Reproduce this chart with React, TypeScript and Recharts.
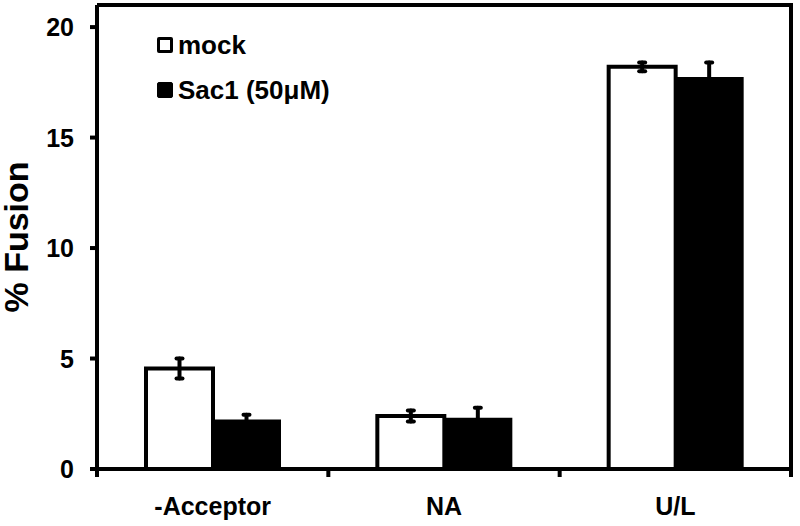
import React from "react";
import {
  BarChart,
  Bar,
  XAxis,
  YAxis,
  ErrorBar,
  ReferenceLine,
} from "recharts";

const categories = ["-Acceptor", "NA", "U/L"];
const mockValues = [4.55, 2.4, 18.2];
const mockErrors = [0.45, 0.25, 0.2];
const sacValues = [2.2, 2.27, 17.7];
const sacErrors = [0.25, 0.5, 0.7];
const yTicks = [0, 5, 10, 15, 20];
const yMax = 21;
const seriesNames = ["mock", "Sac1 (50\u03bcM)"];

const data = categories.map((c, i) => ({
  category: c,
  mock: mockValues[i],
  mockErr: mockErrors[i],
  sac: sacValues[i],
  sacErr: sacErrors[i],
}));

const FONT = "'Liberation Sans', Arial, Helvetica, sans-serif";

// layout constants (shared by chart and frame overlay)
const CHART_W = 800;
const CHART_H = 526;
const MARGIN = { top: 5, right: 9, left: 0, bottom: 0 };
const Y_AXIS_W = 97;
const X_AXIS_H = 57;
const PLOT_LEFT = MARGIN.left + Y_AXIS_W;
const PLOT_RIGHT = CHART_W - MARGIN.right;
const PLOT_TOP = MARGIN.top;
const PLOT_BOTTOM = CHART_H - MARGIN.bottom - X_AXIS_H;

const YTick = (props: any) => {
  const { x, y, payload } = props;
  return (
    <text
      x={x}
      y={y}
      dy={9}
      textAnchor="end"
      fill="#000"
      fontSize={25}
      fontWeight={700}
      fontFamily={FONT}
      style={{ fontWeight: 700 }}
    >
      {payload.value}
    </text>
  );
};

const XTick = (props: any) => {
  const { x, y, payload } = props;
  return (
    <text
      x={x}
      y={y}
      dy={18}
      textAnchor="middle"
      fill="#000"
      fontSize={25}
      fontWeight={700}
      fontFamily={FONT}
      style={{ fontWeight: 700 }}
    >
      {payload.value}
    </text>
  );
};

const EdgeTick = (props: any) => {
  const { x1, y1, y2 } = props;
  const bottom = Math.max(y1, y2);
  return <line x1={x1} x2={x1} y1={bottom} y2={bottom + 8} stroke="#000" strokeWidth={4} />;
};

export default function App() {
  return (
    <div style={{ position: "absolute", left: 0, top: 0, width: CHART_W, height: CHART_H, background: "#fff" }}>
      <BarChart
        width={CHART_W}
        height={CHART_H}
        data={data}
        margin={MARGIN}
        barGap={0}
        barSize={67}
      >
        <XAxis
          dataKey="category"
          height={X_AXIS_H}
          axisLine={{ stroke: "#000", strokeWidth: 4 }}
          tickLine={false}
          tickMargin={22}
          tick={<XTick />}
        />
        <YAxis
          width={Y_AXIS_W}
          domain={[0, yMax]}
          ticks={yTicks}
          allowDataOverflow
          axisLine={{ stroke: "#000", strokeWidth: 4 }}
          tickLine={{ stroke: "#000", strokeWidth: 4 }}
          tickSize={7}
          tickMargin={16}
          tick={<YTick />}
          label={{
            value: "% Fusion",
            angle: -90,
            position: "insideLeft",
            offset: 0,
            dx: 16,
            style: { fill: "#000", fontSize: 34, fontWeight: 700, fontFamily: FONT, textAnchor: "middle" },
          }}
        />
        {categories.map((c) => (
          <ReferenceLine
            key={"e" + c}
            x={c}
            position="end"
            ifOverflow="visible"
            shape={<EdgeTick />}
          />
        ))}
        <ReferenceLine
          x={categories[0]}
          position="start"
          ifOverflow="visible"
          shape={<EdgeTick />}
        />
        <Bar
          dataKey="mock"
          name={seriesNames[0]}
          fill="#fff"
          stroke="#000"
          strokeWidth={4}
          isAnimationActive={false}
        >
          <ErrorBar
            dataKey="mockErr"
            width={3}
            stroke="#000"
            strokeWidth={4}
            strokeLinecap="round"
            direction="y"
          />
        </Bar>
        <Bar
          dataKey="sac"
          name={seriesNames[1]}
          fill="#000"
          stroke="#000"
          strokeWidth={2}
          isAnimationActive={false}
        >
          <ErrorBar
            dataKey="sacErr"
            width={3}
            stroke="#000"
            strokeWidth={4}
            strokeLinecap="round"
            direction="y"
          />
        </Bar>
      </BarChart>
      <svg
        width={CHART_W}
        height={CHART_H}
        style={{ position: "absolute", left: 0, top: 0, pointerEvents: "none" }}
      >
        <polyline
          points={`${PLOT_LEFT},${PLOT_TOP} ${PLOT_RIGHT},${PLOT_TOP} ${PLOT_RIGHT},${PLOT_BOTTOM}`}
          fill="none"
          stroke="#000"
          strokeWidth={4}
          strokeLinejoin="miter"
        />
      </svg>
      <div
        style={{
          position: "absolute",
          left: 157,
          top: 30,
          fontFamily: FONT,
          fontWeight: 700,
          fontSize: 26,
          color: "#000",
          lineHeight: "30px",
        }}
      >
        {seriesNames.map((n, i) => (
          <div key={n} style={{ display: "flex", alignItems: "center", height: 30, marginBottom: i === 0 ? 15 : 0 }}>
            <span
              style={{
                display: "inline-block",
                width: i === 0 ? 10 : 14,
                height: i === 0 ? 10 : 14,
                border: i === 0 ? "3px solid #000" : "1px solid #000",
                background: i === 0 ? "#fff" : "#000",
                marginRight: 5,
                borderRadius: 2,
              }}
            />
            <span>{n}</span>
          </div>
        ))}
      </div>
    </div>
  );
}
